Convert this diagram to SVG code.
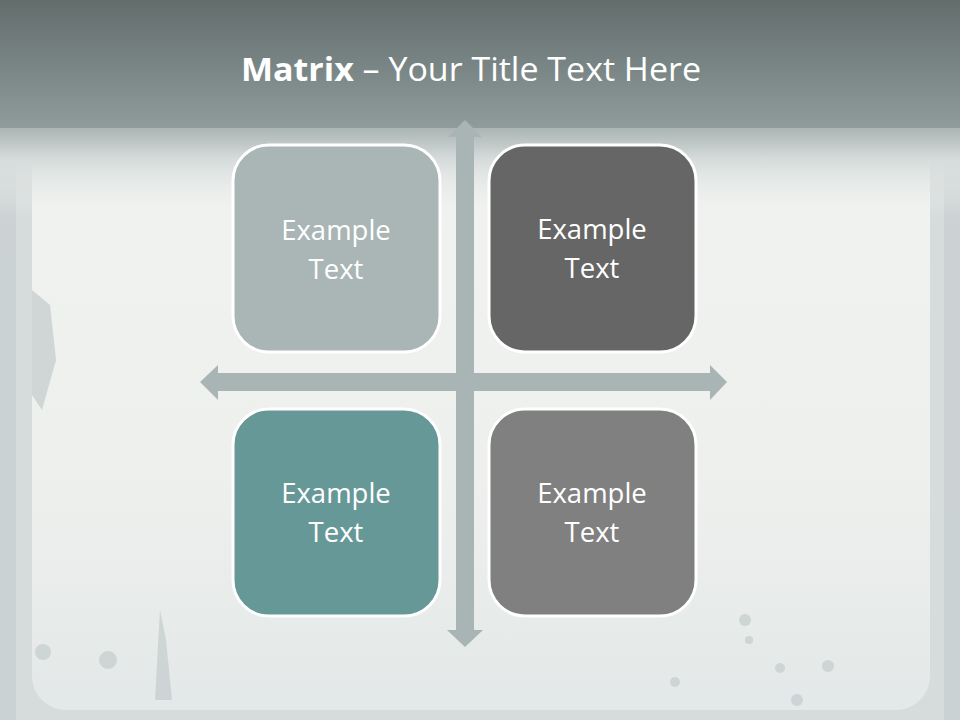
<svg xmlns="http://www.w3.org/2000/svg" width="960" height="720" viewBox="0 0 960 720">
<defs>
<linearGradient id="hdr" x1="0" y1="0" x2="0" y2="1">
<stop offset="0" stop-color="#626d6c"/>
<stop offset="1" stop-color="#8f9c9b"/>
</linearGradient>
<linearGradient id="fade" x1="0" y1="0" x2="0" y2="1">
<stop offset="0" stop-color="#aab5b4"/>
<stop offset="0.35" stop-color="#d6dcdb"/>
<stop offset="1" stop-color="#eef1ee" stop-opacity="0"/>
</linearGradient>
<linearGradient id="bg" x1="0" y1="0" x2="0" y2="1">
<stop offset="0" stop-color="#f1f3f0"/>
<stop offset="0.6" stop-color="#eef0ed"/>
<stop offset="1" stop-color="#e3e8e8"/>
</linearGradient>
<style>
.box{stroke:#ffffff;stroke-width:3}
.lbl{font-family:"Open Sans","Liberation Sans",sans-serif;font-size:27.5px;fill:#ffffff;text-anchor:middle}
.ttl{font-family:"Open Sans","Liberation Sans",sans-serif;font-size:32px;fill:#ffffff}
.ax{fill:#a9b5b5}
.spot{fill:#c9d0d1;opacity:0.8}
</style>
</defs>
<rect x="0" y="0" width="960" height="720" fill="#d6dcdc"/>
<rect x="32" y="120" width="898" height="590" rx="34" fill="url(#bg)"/>
<g class="spot">
<rect x="0" y="140" width="16" height="580"/>
<rect x="944" y="140" width="16" height="580"/>
<circle cx="43" cy="652" r="8"/>
<circle cx="108" cy="660" r="9"/>
<circle cx="745" cy="620" r="6"/>
<circle cx="749" cy="640" r="4"/>
<circle cx="780" cy="668" r="5"/>
<circle cx="797" cy="700" r="6"/>
<circle cx="828" cy="666" r="6"/>
<circle cx="675" cy="682" r="5"/>
<path d="M155 700 L160 610 L166 640 L172 700 Z"/>
<path d="M32 290 L50 305 L56 360 L42 410 L32 395 Z"/>
</g>
<rect x="0" y="0" width="960" height="128" fill="url(#hdr)"/>
<rect x="0" y="128" width="960" height="90" fill="url(#fade)"/>
<text class="ttl" x="471" y="81" text-anchor="middle" textLength="460" lengthAdjust="spacingAndGlyphs"><tspan font-weight="bold">Matrix</tspan> – Your Title Text Here</text>
<g id="connectors">
<path id="axis-v" class="ax" d="M465 120 L482 137 L474 137 L474 630 L483 630 L465 647 L447 630 L456 630 L456 137 L448 137 Z"/>
<path id="axis-h" class="ax" d="M200 382 L218 365 L218 373 L710 373 L710 365 L727 382 L710 400 L710 391 L218 391 L218 400 Z"/>
</g>
<g id="node-tl">
<rect class="box" x="233" y="145" width="207" height="207" rx="36" fill="#aab5b5"/>
<text class="lbl" x="336" y="240">Example</text>
<text class="lbl" x="336" y="279">Text</text>
</g>
<g id="node-tr">
<rect class="box" x="489" y="145" width="207" height="207" rx="36" fill="#666666"/>
<text class="lbl" x="592" y="239">Example</text>
<text class="lbl" x="592" y="278">Text</text>
</g>
<g id="node-bl">
<rect class="box" x="233" y="409" width="207" height="207" rx="36" fill="#679898"/>
<text class="lbl" x="336" y="503">Example</text>
<text class="lbl" x="336" y="542">Text</text>
</g>
<g id="node-br">
<rect class="box" x="489" y="409" width="207" height="207" rx="36" fill="#808080"/>
<text class="lbl" x="592" y="503">Example</text>
<text class="lbl" x="592" y="542">Text</text>
</g>
</svg>
